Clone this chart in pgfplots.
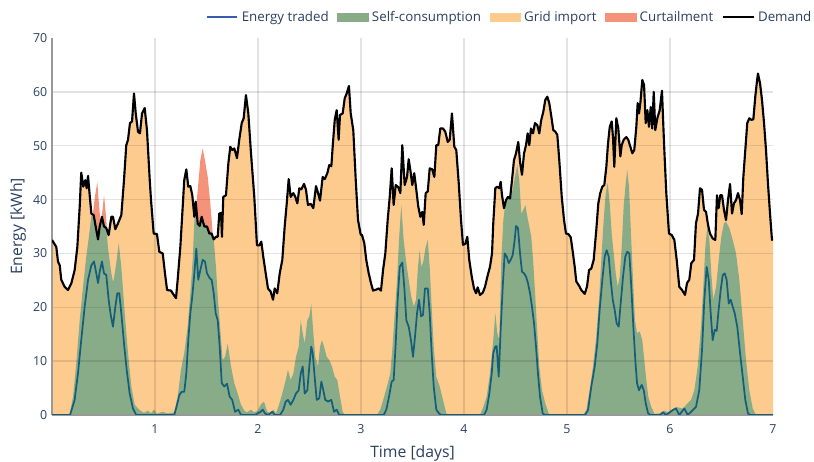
\documentclass[border=0pt]{standalone}
\usepackage{fontspec}
\setmainfont{Open Sans}
\usepackage{pgfplots}
\usepackage{pgfplotstable}
\pgfplotsset{compat=1.18}
\definecolor{txt}{HTML}{2A3F5F}
\definecolor{orangeF}{RGB}{254,203,143}
\definecolor{greenF}{RGB}{136,172,136}
\definecolor{redF}{RGB}{244,147,122}
\definecolor{blueL}{RGB}{21,94,122}
\definecolor{blueLeg}{RGB}{58,92,172}
\pgfplotsset{
  lineleg/.style={legend image code/.code={\draw[##1] (0pt,0pt) -- (23pt,0pt);}},
  boxleg/.style={legend image code/.code={\fill[##1] (0pt,-3pt) rectangle (23pt,3pt);}},
}

\pgfplotstableread{
d v
0.000 32.5
0.042 31.2
0.058 28.5
0.075 27.8
0.090 25.1
0.123 23.8
0.155 23.2
0.187 24.4
0.220 26.9
0.246 31.2
0.269 38.7
0.284 45.0
0.304 42.4
0.323 43.6
0.337 42.1
0.350 44.4
0.366 40.8
0.382 37.4
0.405 37.1
0.424 35.0
0.447 32.6
0.463 35.0
0.485 36.8
0.505 35.0
0.527 34.7
0.550 33.4
0.576 36.8
0.592 36.8
0.615 34.5
0.641 35.6
0.673 37.1
0.699 43.6
0.721 50.1
0.738 51.1
0.757 54.2
0.777 54.5
0.796 59.7
0.813 56.0
0.835 52.6
0.854 52.3
0.874 56.0
0.900 57.0
0.922 52.9
0.949 43.6
0.961 40.0
0.987 33.7
1.019 33.6
1.042 30.3
1.075 30.0
1.097 26.3
1.117 23.2
1.155 23.1
1.182 22.3
1.204 21.7
1.220 25.1
1.246 31.2
1.269 38.7
1.284 43.6
1.304 45.6
1.323 42.4
1.343 42.5
1.362 40.8
1.382 36.8
1.395 39.6
1.415 35.5
1.434 35.1
1.453 36.8
1.479 35.0
1.505 35.0
1.527 33.7
1.550 33.7
1.570 32.6
1.592 33.1
1.609 33.1
1.624 37.4
1.641 37.5
1.650 33.1
1.663 40.5
1.689 40.8
1.712 46.7
1.731 49.8
1.750 49.2
1.770 49.5
1.796 47.7
1.818 51.1
1.842 54.2
1.861 55.1
1.883 59.4
1.906 56.0
1.932 48.6
1.964 40.5
1.990 31.5
2.013 31.5
2.032 32.2
2.051 29.4
2.075 26.3
2.097 23.5
2.123 22.9
2.146 21.4
2.162 23.5
2.187 22.6
2.211 26.3
2.236 28.8
2.259 35.0
2.279 39.3
2.298 43.8
2.317 40.5
2.343 41.2
2.362 40.5
2.382 39.3
2.401 42.1
2.420 41.9
2.447 42.9
2.466 41.8
2.485 39.0
2.512 39.2
2.537 38.4
2.563 42.5
2.583 41.2
2.602 39.8
2.628 44.2
2.648 43.8
2.673 44.9
2.692 46.4
2.712 46.2
2.725 49.8
2.745 54.8
2.764 56.6
2.783 51.1
2.796 55.7
2.822 56.0
2.842 58.8
2.861 59.7
2.883 61.1
2.900 56.0
2.925 52.9
2.949 43.6
2.971 36.2
2.997 33.5
3.010 33.4
3.032 31.9
3.051 28.8
3.075 26.3
3.097 24.5
3.117 23.1
3.149 23.3
3.172 23.5
3.194 23.1
3.214 26.9
3.236 30.0
3.259 36.2
3.279 40.5
3.298 45.8
3.317 39.0
3.337 42.7
3.362 42.3
3.382 41.2
3.401 50.1
3.424 42.7
3.447 44.2
3.463 47.5
3.479 45.5
3.498 42.7
3.517 44.9
3.537 41.8
3.556 38.7
3.576 36.8
3.595 37.7
3.609 35.3
3.628 41.2
3.648 41.5
3.667 45.8
3.692 45.6
3.712 44.2
3.731 50.1
3.750 50.1
3.770 53.2
3.796 53.2
3.818 52.6
3.842 50.7
3.861 51.1
3.883 56.0
3.906 49.8
3.925 49.2
3.949 43.0
3.971 36.2
3.990 31.6
4.013 31.8
4.032 33.1
4.051 28.8
4.075 25.7
4.097 23.5
4.117 22.6
4.133 23.7
4.155 22.3
4.182 22.7
4.204 23.8
4.227 25.7
4.252 27.5
4.272 30.0
4.284 35.6
4.304 42.1
4.323 42.4
4.343 42.1
4.356 43.3
4.369 40.8
4.388 38.4
4.408 39.9
4.427 40.5
4.447 40.2
4.466 43.6
4.485 47.3
4.505 48.6
4.527 50.7
4.544 47.0
4.563 44.6
4.583 48.6
4.602 50.1
4.618 52.3
4.634 50.1
4.650 53.2
4.670 52.3
4.689 54.2
4.712 53.8
4.731 52.3
4.750 54.8
4.770 56.3
4.789 58.5
4.809 59.1
4.828 57.9
4.848 55.4
4.867 52.9
4.887 52.6
4.906 52.0
4.925 47.3
4.949 40.5
4.971 36.2
4.990 33.7
5.013 33.6
5.036 33.0
5.051 31.0
5.075 27.5
5.090 24.8
5.117 24.0
5.139 23.2
5.172 22.5
5.194 23.8
5.214 26.9
5.236 27.2
5.259 28.8
5.284 34.3
5.304 39.3
5.323 41.2
5.343 42.4
5.362 42.7
5.382 46.1
5.398 50.4
5.415 53.5
5.434 54.5
5.447 51.4
5.459 46.1
5.479 55.1
5.498 53.2
5.518 48.0
5.531 50.1
5.550 51.1
5.576 51.6
5.595 51.1
5.615 49.8
5.634 48.6
5.653 49.2
5.673 53.5
5.686 57.9
5.699 56.0
5.712 57.9
5.731 62.2
5.748 61.3
5.764 54.2
5.780 56.6
5.796 53.5
5.813 57.2
5.828 53.2
5.842 60.0
5.857 52.9
5.877 55.1
5.900 56.6
5.922 60.2
5.942 50.4
5.964 41.2
5.990 33.7
6.017 33.4
6.042 32.5
6.065 28.8
6.090 23.8
6.117 23.2
6.146 22.3
6.165 24.5
6.187 25.1
6.207 28.2
6.233 28.8
6.252 35.6
6.272 37.4
6.291 42.1
6.311 41.8
6.330 38.1
6.350 37.7
6.369 35.3
6.388 33.7
6.414 32.8
6.440 32.5
6.456 40.8
6.472 38.4
6.488 40.8
6.505 40.8
6.524 38.1
6.544 36.2
6.563 39.9
6.583 42.9
6.602 37.4
6.621 39.3
6.641 39.9
6.660 41.2
6.680 39.9
6.696 37.3
6.712 44.2
6.731 49.2
6.750 54.2
6.770 55.1
6.789 54.8
6.809 54.9
6.828 59.1
6.842 61.6
6.854 63.4
6.874 61.6
6.893 58.5
6.913 54.2
6.932 49.2
6.951 43.0
6.971 37.4
6.990 32.5
7.000 32.8
}\demand

\pgfplotstableread{
d v
0.000 0
0.170 0
0.204 3.4
0.236 9.6
0.269 17.6
0.301 23.8
0.333 29.4
0.366 34.3
0.382 37.0
0.405 37.1
0.424 35.0
0.447 32.6
0.463 35.0
0.485 36.8
0.505 35.0
0.527 34.7
0.544 31.0
0.576 26.3
0.595 24.6
0.624 28.2
0.648 31.9
0.673 27.5
0.706 18.9
0.738 11.5
0.770 5.3
0.803 1.9
0.851 0.9
0.893 0.4
0.932 0.8
0.961 0.3
0.990 1.0
1.019 0.2
1.068 0.6
1.126 0.3
1.187 0.5
1.220 3.4
1.252 8.4
1.284 11.5
1.317 16.4
1.343 22.6
1.366 28.8
1.382 36.0
1.395 38.5
1.415 35.5
1.434 35.1
1.453 36.8
1.479 35.0
1.505 35.0
1.527 33.7
1.550 33.7
1.570 32.6
1.592 27.5
1.609 22.0
1.634 15.8
1.657 10.2
1.680 10.8
1.706 13.3
1.738 9.0
1.770 5.9
1.803 4.0
1.835 1.9
1.867 0.8
1.893 0.5
1.932 1.0
1.961 0.5
1.997 0.8
2.026 1.9
2.058 2.5
2.090 0.6
2.123 0.3
2.149 1.0
2.175 0.3
2.204 1.9
2.236 4.0
2.269 6.5
2.291 8.4
2.317 6.5
2.343 7.7
2.369 10.8
2.395 12.7
2.415 17.6
2.434 15.2
2.453 13.3
2.479 17.6
2.498 18.3
2.517 20.6
2.537 15.2
2.556 10.8
2.583 9.0
2.602 12.7
2.621 13.9
2.641 12.7
2.667 10.8
2.692 10.2
2.718 9.0
2.745 7.1
2.770 6.5
2.796 3.4
2.822 0.6
2.842 0
3.155 0
3.187 1.0
3.220 3.1
3.252 5.3
3.284 7.7
3.304 12.1
3.323 17.6
3.350 25.1
3.369 32.5
3.391 39.0
3.414 32.5
3.440 28.2
3.463 25.1
3.488 22.0
3.512 20.1
3.534 21.4
3.553 27.5
3.570 30.6
3.585 27.5
3.605 28.5
3.628 31.2
3.648 32.5
3.667 27.5
3.686 20.1
3.706 12.7
3.731 7.1
3.764 5.3
3.796 2.8
3.828 0.3
3.854 0
4.155 0
4.188 1.5
4.220 3.4
4.252 7.7
4.284 13.9
4.304 18.9
4.323 15.2
4.343 13.9
4.362 28.8
4.382 36.2
4.401 39.3
4.420 39.9
4.447 40.2
4.473 41.8
4.495 44.2
4.517 46.4
4.537 43.6
4.556 37.4
4.576 38.1
4.595 39.0
4.615 36.8
4.634 35.0
4.653 33.1
4.673 28.2
4.692 22.0
4.712 15.2
4.731 9.0
4.757 4.6
4.789 2.2
4.822 0.3
4.845 0
5.155 0
5.187 0.9
5.220 4.6
5.252 9.0
5.284 14.5
5.311 21.4
5.333 28.8
5.356 36.2
5.376 41.2
5.395 43.1
5.415 39.3
5.434 33.7
5.453 30.0
5.473 26.3
5.492 23.8
5.512 25.7
5.531 31.2
5.550 38.7
5.570 43.0
5.585 45.5
5.602 42.4
5.621 33.7
5.641 25.1
5.660 17.6
5.680 15.2
5.706 15.5
5.731 13.9
5.750 10.2
5.770 6.5
5.789 3.4
5.818 1.5
5.851 0.2
5.903 0.3
5.942 0.8
5.981 0.5
6.010 0.9
6.058 1.5
6.123 1.2
6.172 2.2
6.204 2.8
6.236 4.6
6.269 9.0
6.301 16.4
6.323 23.8
6.343 31.2
6.362 35.0
6.382 32.5
6.401 26.3
6.420 21.4
6.447 23.8
6.473 28.8
6.498 33.1
6.524 35.6
6.544 35.9
6.576 34.7
6.609 32.5
6.641 30.0
6.673 25.1
6.706 17.6
6.738 10.2
6.770 4.6
6.803 1.2
6.835 0
7.000 0
}\selfc

\pgfplotstableread{
d v
0.000 0
0.175 0
0.220 2.8
0.252 7.7
0.284 13.9
0.317 20.1
0.350 25.1
0.382 27.8
0.408 28.5
0.430 26.3
0.447 24.5
0.463 26.6
0.485 28.5
0.505 26.3
0.527 26.0
0.550 21.4
0.570 18.6
0.592 16.4
0.615 20.1
0.634 22.6
0.653 22.6
0.673 18.9
0.699 13.3
0.725 8.4
0.754 4.0
0.786 1.2
0.818 0
1.187 0
1.214 1.9
1.236 3.7
1.259 4.3
1.284 4.3
1.304 7.7
1.323 13.9
1.343 18.9
1.362 22.0
1.382 26.3
1.401 30.9
1.420 25.1
1.440 26.9
1.463 28.8
1.485 28.5
1.505 26.3
1.531 25.4
1.550 25.1
1.570 22.6
1.589 18.9
1.609 17.6
1.628 12.7
1.648 5.9
1.673 5.3
1.699 5.8
1.725 3.4
1.750 2.8
1.777 0.6
1.809 1.0
1.835 0
1.971 0
2.026 0.6
2.046 1.0
2.068 0.3
2.097 0
2.139 0.6
2.162 0
2.214 0
2.246 1.0
2.269 2.5
2.291 2.8
2.317 1.9
2.343 2.8
2.369 4.0
2.395 4.6
2.415 7.7
2.434 9.0
2.453 4.0
2.479 4.6
2.498 9.0
2.517 12.7
2.531 11.5
2.550 7.1
2.570 2.8
2.595 3.1
2.615 6.2
2.634 4.6
2.653 2.8
2.680 2.5
2.712 2.8
2.738 0.6
2.764 1.0
2.789 0
3.220 0
3.246 1.0
3.272 3.4
3.298 6.2
3.317 6.5
3.337 13.3
3.356 21.4
3.376 27.5
3.401 28.3
3.420 23.8
3.440 17.6
3.463 16.4
3.485 13.9
3.505 10.8
3.524 14.5
3.544 18.9
3.563 21.4
3.583 18.3
3.602 18.6
3.621 23.5
3.648 23.5
3.667 18.9
3.686 11.5
3.706 5.3
3.731 1.0
3.757 0.3
3.777 0
4.194 0
4.220 1.0
4.246 4.0
4.269 7.7
4.284 11.5
4.304 12.7
4.317 12.8
4.337 7.1
4.356 15.8
4.376 23.8
4.395 30.0
4.415 29.4
4.434 28.2
4.453 28.8
4.473 29.7
4.492 32.5
4.505 35.1
4.524 34.7
4.544 30.0
4.563 26.6
4.583 26.3
4.602 25.7
4.621 24.5
4.641 22.6
4.660 20.1
4.680 17.0
4.699 12.7
4.718 7.7
4.738 3.4
4.764 0.3
4.786 0
5.175 0
5.204 0.9
5.236 5.3
5.269 9.0
5.294 13.3
5.317 19.5
5.343 25.1
5.366 29.4
5.385 30.6
5.405 29.4
5.424 25.1
5.444 21.4
5.463 19.5
5.482 17.0
5.502 16.4
5.521 20.7
5.544 25.7
5.566 29.4
5.585 30.3
5.605 30.0
5.624 23.8
5.644 16.4
5.663 10.2
5.680 5.9
5.699 4.6
5.725 5.6
5.745 4.6
5.764 2.2
5.786 0.4
5.806 0
5.903 0
5.932 0.5
5.961 0
6.026 0.9
6.058 1.2
6.090 0
6.139 1.2
6.172 0
6.220 0.9
6.252 1.5
6.284 4.6
6.311 12.1
6.333 21.4
6.356 27.5
6.376 25.1
6.395 18.9
6.414 13.9
6.434 15.8
6.453 15.6
6.472 19.5
6.492 23.2
6.512 26.0
6.531 26.3
6.550 25.1
6.570 20.7
6.589 21.4
6.609 20.1
6.628 18.9
6.653 16.4
6.680 11.5
6.706 7.1
6.731 2.8
6.757 0.3
6.777 0
7.000 0
}\traded

\pgfplotstableread{
d v
0.382 37.0
0.398 37.5
0.417 40.5
0.440 43.3
0.456 39.0
0.473 35.5
0.490 38.0
0.505 40.8
0.524 37.0
0.544 32.0
}\curtA

\pgfplotstableread{
d v
1.382 36.0
1.398 38.5
1.415 41.8
1.440 47.3
1.463 49.5
1.485 47.3
1.512 44.2
1.537 39.3
1.563 33.1
1.573 32.0
}\curtB

\begin{document}
\begin{tikzpicture}
\begin{axis}[
  set layers,
  scale only axis, width=540.75pt, height=282.75pt,
  xmin=0, xmax=7, ymin=0, ymax=70,
  axis x line*=bottom, axis y line*=left,
  axis line style={-, draw=black!40, line width=0.8pt},
  xtick={1,2,3,4,5,6}, extra x ticks={7}, extra x tick style={grid=none},
  ytick={0,10,20,30,40,50,60}, extra y ticks={70}, extra y tick style={grid=none},
  grid=major,
  major grid style={draw=black, opacity=0.11, line width=1pt},
  major tick length=0pt,
  /pgf/number format/assume math mode=true,
  tick label style={font=\fontsize{9.3}{10}\selectfont, text=txt},
  xticklabel style={yshift=-3.5pt},
  xlabel={Time [days]}, ylabel={Energy [kWh]},
  label style={font=\fontsize{11.8}{13}\selectfont, text=txt},
  xlabel style={at={(axis description cs:0.5,0)}, anchor=center, yshift=-28.5pt},
  ylabel style={at={(axis description cs:0,0.5)}, anchor=center, yshift=25.5pt},
  legend columns=-1,
  legend cell align=left,
  legend style={draw=none, fill=none, at={(1,1)}, anchor=east, xshift=30pt, yshift=15.75pt,
    inner sep=0pt, font=\fontsize{10}{11}\selectfont, text=txt,
    nodes={inner xsep=1pt, inner ysep=1pt},
    /tikz/every odd column/.append style={column sep=1.5pt},
    /tikz/every even column/.append style={column sep=5.5pt}},
]
\addlegendimage{lineleg, blueLeg, line width=1.5pt}
\addlegendentry{Energy traded}
\addlegendimage{boxleg, greenF}
\addlegendentry{Self-consumption}
\addlegendimage{boxleg, orangeF}
\addlegendentry{Grid import}
\addlegendimage{boxleg, redF}
\addlegendentry{Curtailment}
\addlegendimage{lineleg, black, line width=1.5pt}
\addlegendentry{Demand}

\addplot[forget plot, on layer=axis background, draw=none, fill=redF] table {\curtA} \closedcycle;
\addplot[forget plot, on layer=axis background, draw=none, fill=redF] table {\curtB} \closedcycle;
\addplot[forget plot, on layer=axis background, draw=none, fill=orangeF] table {\demand} \closedcycle;
\addplot[forget plot, on layer=axis background, draw=none, fill=greenF] table {\selfc} \closedcycle;
\addplot[forget plot, blueL, line width=1.3pt, line join=round] table {\traded};
\addplot[forget plot, black, line width=1.6pt, line join=round] table {\demand};
\end{axis}
\pgfresetboundingbox
\path[use as bounding box] ([shift={(-39pt,-35.25pt)}]current axis.south west) rectangle ([shift={(30.75pt,28.5pt)}]current axis.north east);
\end{tikzpicture}
\end{document}
